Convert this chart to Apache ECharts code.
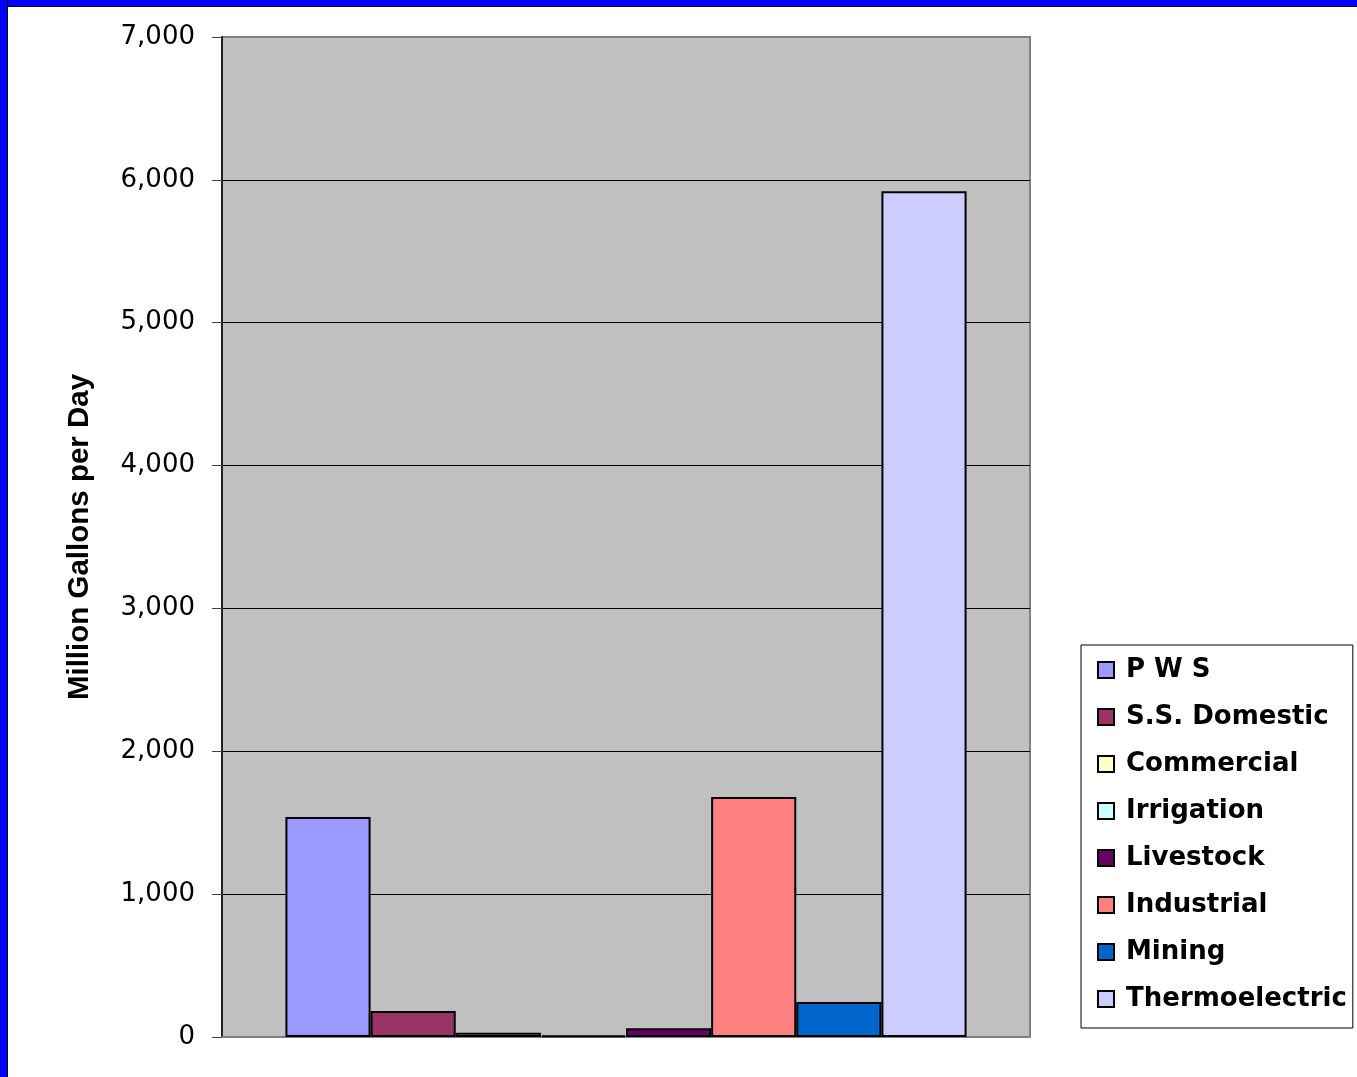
<!DOCTYPE html>
<html>
<head>
<meta charset="utf-8">
<script src="https://cdn.jsdelivr.net/npm/echarts@6/dist/echarts.min.js"></script>
<style>
  html, body { margin: 0; padding: 0; background: #fff; }
  #chart { position: absolute; left: 0; top: 0; width: 1357px; height: 1077px; }
  .bt { position: absolute; left: 0; top: 0; width: 1357px; height: 6px; background: #0000ff; border-bottom: 1px solid #000; pointer-events: none; }
  .bl { position: absolute; left: 0; top: 0; width: 7px; height: 1077px; background: #0000ff; border-right: 1px solid #000; pointer-events: none; }
</style>
</head>
<body>
<div id="chart"></div>
<div class="bt"></div>
<div class="bl"></div>
<script>
const categories = ['2000'];
const seriesNames = ['P W S', 'S.S. Domestic', 'Commercial', 'Irrigation', 'Livestock', 'Industrial', 'Mining', 'Thermoelectric'];
const seriesValues = [1540, 182, 30, 12, 61, 1680, 245, 5920];
const seriesColors = ['#9999FF', '#993366', '#FFFFCC', '#CCFFFF', '#660066', '#FF8080', '#0066CC', '#CCCCFF'];
const yTicks = [0, 1000, 2000, 3000, 4000, 5000, 6000, 7000];

const chart = echarts.init(document.getElementById('chart'));
chart.setOption({
  backgroundColor: 'transparent',
  animation: false,
  grid: {
    left: 222, top: 37, right: 327, bottom: 40,
    show: true, backgroundColor: '#C0C0C0', borderColor: '#808080', borderWidth: 2
  },
  legend: {
    orient: 'vertical',
    left: 1081, top: 645,
    data: seriesNames,
    backgroundColor: '#fff',
    borderColor: '#000', borderWidth: 1,
    padding: [12, 6, 16, 16],
    itemWidth: 16, itemHeight: 16,
    itemGap: 21,
    icon: 'rect',
    itemStyle: { borderColor: '#000', borderWidth: 2 },
    textStyle: { fontFamily: 'DejaVu Sans', fontWeight: 'bold', fontSize: 26, color: '#000', padding: [0, 0, 0, 7] }
  },
  xAxis: {
    type: 'category', data: categories,
    axisLabel: { show: false }, axisTick: { show: false },
    axisLine: { lineStyle: { color: '#808080', width: 2 } }
  },
  yAxis: {
    type: 'value', min: 0, max: 7000, interval: 1000,
    name: 'Million Gallons per Day',
    nameLocation: 'middle', nameGap: 127, nameRotate: 90,
    nameTextStyle: { fontFamily: 'Liberation Sans', fontWeight: 'bold', fontSize: 29.5, color: '#000' },
    axisLine: { show: true, lineStyle: { color: '#222', width: 2 } },
    axisTick: { show: true, inside: false, length: 10, lineStyle: { color: '#444', width: 1 } },
    axisLabel: {
      margin: 27, fontFamily: 'DejaVu Sans', fontSize: 26, color: '#000',
      formatter: v => v.toLocaleString('en-US')
    },
    splitLine: { show: true, lineStyle: { color: yTicks.map((t, i) => (i === 0 || i === yTicks.length - 1) ? '#808080' : '#000'), width: 1 } }
  },
  series: seriesNames.map((n, i) => ({
    name: n, type: 'bar',
    data: [seriesValues[i]],
    barGap: '0%', barCategoryGap: '15.7%',
    itemStyle: { color: seriesColors[i], borderColor: '#000', borderWidth: 2 }
  }))
});
</script>
</body>
</html>
